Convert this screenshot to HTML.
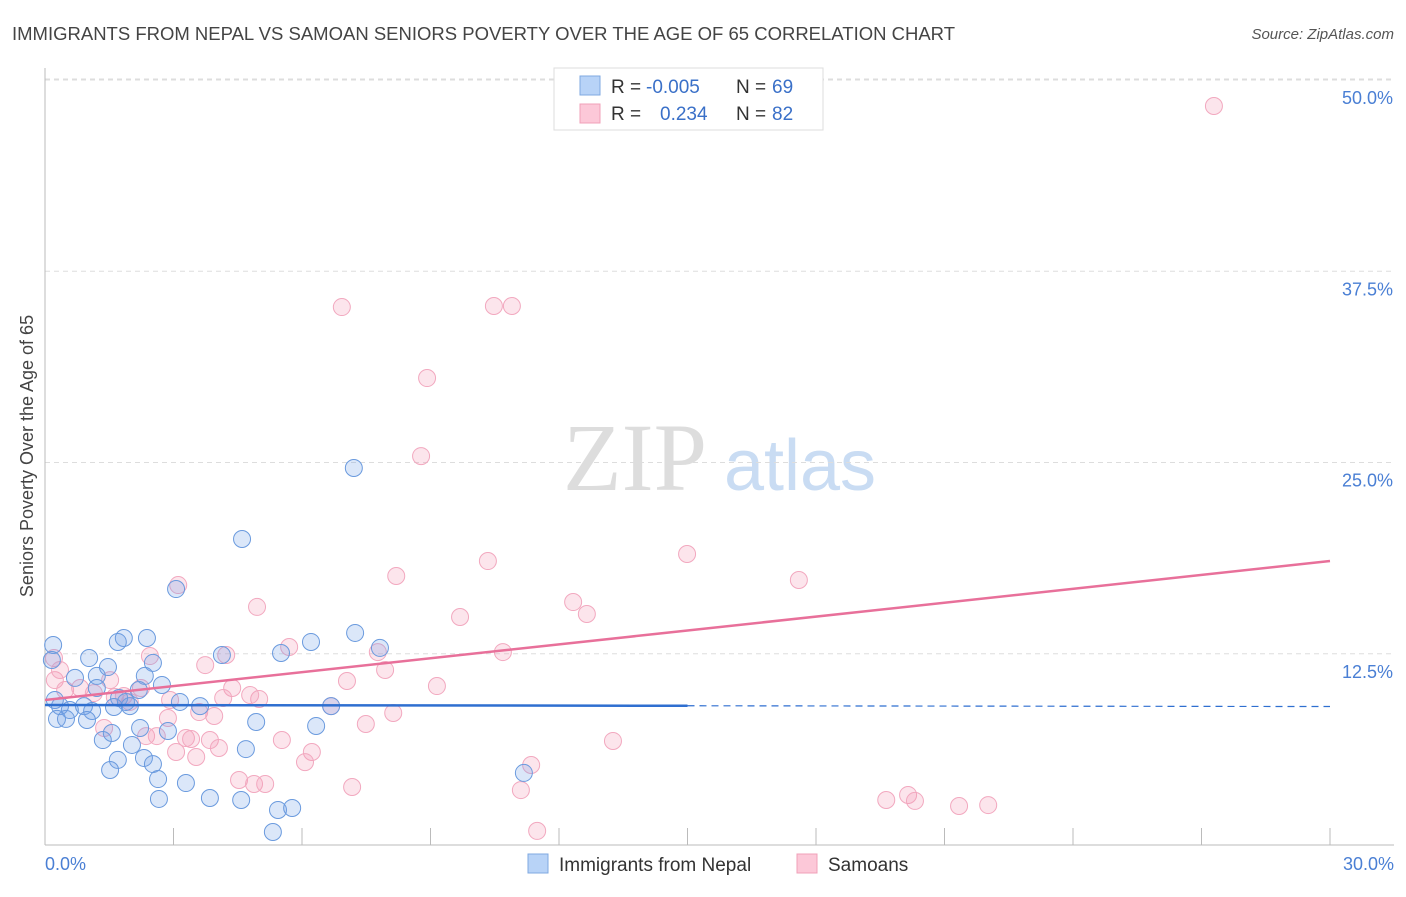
<!DOCTYPE html>
<html><head><meta charset="utf-8"><style>
body{margin:0;background:#fff;font-family:"Liberation Sans",sans-serif}
</style></head><body>
<svg width="1406" height="892" xmlns="http://www.w3.org/2000/svg" style="font-family:'Liberation Sans',sans-serif">
<text x="12" y="40" font-size="18.5" fill="#444">IMMIGRANTS FROM NEPAL VS SAMOAN SENIORS POVERTY OVER THE AGE OF 65 CORRELATION CHART</text>
<text x="1394" y="39" font-size="15" fill="#555" font-style="italic" text-anchor="end">Source: ZipAtlas.com</text>
<g>
<text x="635" y="490" font-size="96" fill="#ddd" font-family="'Liberation Serif',serif" text-anchor="middle">ZIP</text>
<text x="800" y="490" font-size="72" fill="#c9dcf3" text-anchor="middle">atlas</text>
</g>
<g id="grid"></g>
<g id="axes"></g>
<g id="marks"></g>
<g id="legend-top">
<rect x="554" y="68" width="269" height="62" fill="#fff" stroke="#ddd"/>
<rect x="580" y="76" width="20" height="19" fill="#b8d3f7" stroke="#7fa8e0"/>
<rect x="580" y="104" width="20" height="19" fill="#fcc8d8" stroke="#f0a0b8"/>
<text x="611" y="93" font-size="19" fill="#333">R = </text><text x="646" y="93" font-size="19" fill="#3a70c8">-0.005</text>
<text x="736" y="93" font-size="19" fill="#333">N = </text><text x="772" y="93" font-size="19" fill="#3a70c8">69</text>
<text x="611" y="120" font-size="19" fill="#333">R = </text><text x="660" y="120" font-size="19" fill="#3a70c8">0.234</text>
<text x="736" y="120" font-size="19" fill="#333">N = </text><text x="772" y="120" font-size="19" fill="#3a70c8">82</text>
</g>
<g>
<rect x="528" y="854" width="20" height="19" fill="#b8d3f7" stroke="#7fa8e0"/>
<text x="559" y="871" font-size="19" fill="#333">Immigrants from Nepal</text>
<rect x="797" y="854" width="20" height="19" fill="#fcc8d8" stroke="#f0a0b8"/>
<text x="828" y="871" font-size="19" fill="#333">Samoans</text>
</g>
</svg>
<script>
const yTicks=[12.5,25,37.5,50];
const yTickLabels=["12.5%","25.0%","37.5%","50.0%"];
const blueX=[4.60,7.21,3.06,1.84,2.38,1.70,6.21,7.24,7.82,5.51,4.13,2.52,1.03,1.47,2.33,0.19,0.16,1.21,0.70,2.73,3.15,2.19,1.73,1.21,0.23,0.35,0.58,0.91,1.10,1.89,1.98,0.28,0.49,0.98,1.61,6.68,4.93,6.33,2.22,2.87,1.35,1.56,2.03,4.69,1.70,2.31,2.52,1.52,2.64,3.29,11.18,2.66,3.85,4.58,5.44,5.77,5.32,3.62];
const blueY=[20.0,24.64,16.73,13.53,13.53,13.27,13.27,13.86,12.88,12.55,12.42,11.90,12.22,11.63,11.05,13.07,12.09,11.05,10.92,10.46,9.35,10.13,9.61,10.26,9.48,9.08,8.82,9.08,8.76,9.35,9.08,8.24,8.24,8.17,9.02,9.08,8.04,7.78,7.65,7.45,6.86,7.32,6.54,6.27,5.56,5.69,5.29,4.90,4.31,4.05,4.71,3.01,3.07,2.94,2.29,2.42,0.85,9.08];
const pinkX=[27.29,6.93,10.48,10.90,8.92,8.78,14.99,10.34,8.20,17.60,3.11,4.95,12.33,12.65,9.69,5.70,2.45,7.77,10.69,4.23,3.74,7.94,7.05,9.15,4.37,5.00,0.21,0.23,0.47,0.82,1.14,1.63,2.24,2.92,3.60,2.87,3.95,4.16,7.49,8.13,6.68,4.79,1.38,2.36,2.61,3.29,3.85,4.06,3.41,3.06,3.53,5.53,6.23,6.07,13.26,11.35,4.53,4.88,5.14,7.17,11.11,19.64,20.15,20.31,21.34,22.02,11.49,1.84,1.98,0.35,1.52];
const pinkY=[48.30,35.16,35.23,35.23,30.52,25.42,19.02,18.56,17.58,17.32,16.99,15.56,15.88,15.10,14.90,12.94,12.35,12.61,12.61,12.42,11.76,11.44,10.72,10.39,10.26,9.54,12.22,10.78,10.13,10.26,9.93,9.67,10.26,9.48,8.69,8.30,8.43,9.61,7.91,8.63,9.08,9.80,7.65,7.12,7.12,6.99,6.86,6.34,6.93,6.08,5.75,6.86,6.08,5.42,6.80,5.23,4.25,3.99,3.99,3.79,3.59,2.94,3.27,2.88,2.55,2.61,0.92,9.74,9.35,11.44,10.78];
const blueTrend=[9.15,9.05];
const pinkTrend=[9.48,18.56];
const NS="http://www.w3.org/2000/svg";
const sx=v=>45+v*1285/30, sy=v=>845-v*15.3;
function mk(t,a,p){const e=document.createElementNS(NS,t);for(const k in a)e.setAttribute(k,a[k]);document.getElementById(p).appendChild(e);return e;}
yTicks.forEach((t,i)=>{
 const g=mk('line',{x1:45,x2:1394,y1:sy(t),y2:sy(t),stroke:'#ddd','stroke-dasharray':'5,4'},'grid');
 
 
 const l=mk('text',{x:1393,y:sy(t)+24,'font-size':18,fill:'#4a7fd4','text-anchor':'end'},'axes');
 l.textContent=yTickLabels[i];
 
 
});
const topGrid=mk('line',{x1:45,x2:1394,y1:79,y2:79,stroke:'#ddd','stroke-dasharray':'5,4'},'grid');


const ya=mk('line',{x1:45,x2:45,y1:68,y2:845,stroke:'#bbb'},'axes');


const xa=mk('line',{x1:45,x2:1394,y1:845,y2:845,stroke:'#bbb'},'axes');


for(let i=1;i<=10;i++){const t=mk('line',{x1:sx(i*3),x2:sx(i*3),y1:828,y2:845,stroke:'#bbb'},'axes');
 
 }
const x0=mk('text',{x:45,y:870,'font-size':18,fill:'#4a7fd4'},'axes');x0.textContent='0.0%';


const x1=mk('text',{x:1394,y:870,'font-size':18,fill:'#4a7fd4','text-anchor':'end'},'axes');x1.textContent='30.0%';


const yt=mk('text',{x:0,y:0,'font-size':18,fill:'#444','text-anchor':'middle',transform:'translate(33,456) rotate(-90)'},'axes');yt.textContent='Seniors Poverty Over the Age of 65';


pinkX.forEach((x,i)=>{const c=mk('circle',{cx:sx(x),cy:sy(pinkY[i]),r:8.5,fill:'rgba(245,150,180,0.25)',stroke:'#f2a8bf','stroke-width':1},'marks');
 
 });
blueX.forEach((x,i)=>{const c=mk('circle',{cx:sx(x),cy:sy(blueY[i]),r:8.5,fill:'rgba(110,160,230,0.25)',stroke:'#6a9ade','stroke-width':1},'marks');
 
 });
const bl=mk('line',{x1:sx(0),y1:sy(blueTrend[0]),x2:sx(15),y2:sy((blueTrend[0]+blueTrend[1])/2),stroke:'#2f6fd0','stroke-width':2.5},'marks');


const bd=mk('line',{x1:sx(15),y1:sy((blueTrend[0]+blueTrend[1])/2),x2:sx(30),y2:sy(blueTrend[1]),stroke:'#2f6fd0','stroke-width':1.2,'stroke-dasharray':'7,5'},'marks');


const pl=mk('line',{x1:sx(0),y1:sy(pinkTrend[0]),x2:sx(30),y2:sy(pinkTrend[1]),stroke:'#e8709a','stroke-width':2.5},'marks');


</script>
</body></html>
